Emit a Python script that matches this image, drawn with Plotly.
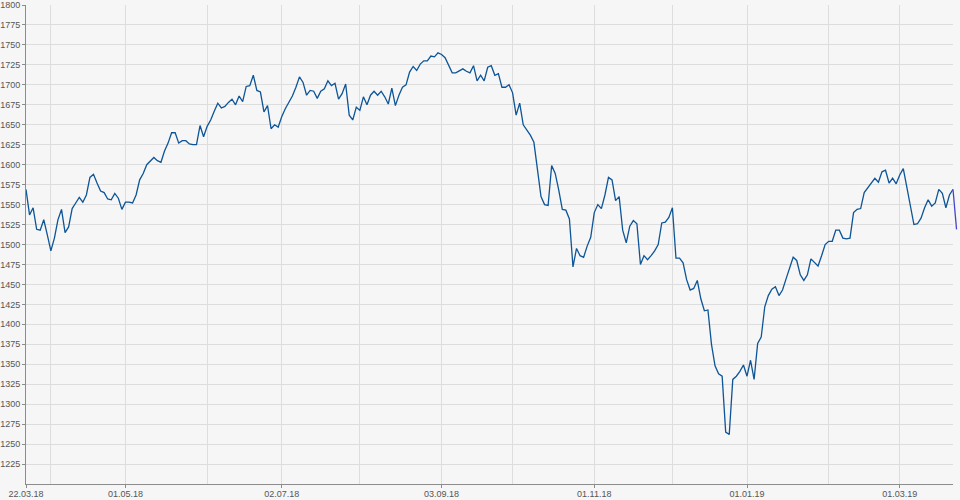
import pandas as pd
import plotly.graph_objects as go

# ---- data -------------------------------------------------------------
START_DATE = "2018-03-22"
END_DATE = "2019-03-22"          # right edge of the x axis

VALUES = [
    1569, 1537, 1546, 1519, 1518, 1531, 1512, 1492, 1508, 1531,
    1544, 1515, 1522, 1545, 1552, 1559, 1553, 1562, 1584, 1588,
    1577, 1567, 1565, 1557, 1556, 1564, 1558, 1544, 1553, 1553,
    1552, 1562, 1581, 1589, 1600, 1604, 1609, 1605, 1603, 1617,
    1627, 1640, 1640, 1627, 1630, 1630, 1626, 1625, 1625, 1649,
    1635, 1648, 1656, 1667, 1677, 1671, 1673, 1678, 1682, 1675,
    1686, 1679, 1698, 1699, 1712, 1693, 1691, 1666, 1674, 1645,
    1650, 1647, 1660, 1670, 1678, 1686, 1697, 1710, 1703, 1687,
    1693, 1692, 1683, 1692, 1695, 1705, 1699, 1702, 1682, 1689,
    1701, 1662, 1656, 1672, 1668, 1685, 1675, 1687, 1692, 1687,
    1692, 1685, 1676, 1696, 1674, 1687, 1697, 1700, 1716, 1723,
    1718, 1726, 1730, 1730, 1736, 1735, 1740, 1738, 1734, 1725,
    1715, 1715, 1717, 1720, 1717, 1715, 1724, 1705, 1712, 1705,
    1722, 1724, 1712, 1714, 1697, 1697, 1700, 1690, 1662, 1677,
    1650, 1643, 1637, 1628, 1590, 1560, 1550, 1549, 1599, 1589,
    1568, 1544, 1543, 1532, 1472, 1495, 1486, 1484, 1498, 1509,
    1540, 1550, 1545, 1562, 1584, 1581, 1555, 1560, 1518, 1502,
    1523, 1530, 1526, 1475, 1486, 1481, 1486, 1492, 1500, 1527,
    1528, 1534, 1546, 1483, 1483, 1477, 1456, 1443, 1445, 1455,
    1432, 1417, 1418, 1375, 1348, 1338, 1335, 1265, 1262, 1331,
    1335, 1341, 1349, 1335, 1355, 1331, 1376, 1384, 1422, 1436,
    1444, 1447, 1436, 1443, 1457, 1470, 1484, 1480, 1462, 1455,
    1462, 1482, 1478, 1473, 1486, 1500, 1504, 1504, 1518, 1518,
    1508, 1507, 1508, 1540, 1544, 1545, 1565, 1571, 1576, 1583,
    1578, 1591, 1593, 1577, 1583, 1576, 1587, 1595, 1572, 1548,
    1525, 1526, 1533, 1546, 1556, 1548, 1552, 1569, 1564, 1546,
    1562, 1569, 1519,
]

X_TICK_LABELS = ["22.03.18", "01.05.18", "02.07.18", "03.09.18",
                 "01.11.18", "01.01.19", "01.03.19"]
Y_TICKS = list(range(1225, 1801, 25))
Y_RANGE = [1200, 1800]

# ---- derived positions (trading-day axis, weekends removed) ------------
DATES = pd.bdate_range(START_DATE, periods=len(VALUES))
pos = {d: i for i, d in enumerate(DATES)}
X = list(range(len(VALUES)))
HOVER = [d.strftime("%d.%m.%y") for d in DATES]

major_idx = [pos[pd.to_datetime(t, format="%d.%m.%y")] for t in X_TICK_LABELS]
month_first = pd.Series(DATES).groupby([DATES.year, DATES.month]).min()
minor_idx = [pos[d] for d in month_first if pos[d] not in major_idx and pos[d] > 0]
end_idx = pos[pd.Timestamp(END_DATE)]

# ---- styling -----------------------------------------------------------
W, H = 960, 500
ML, MR, MT, MB = 26, 0, 5, 16
PLOT_RIGHT = 953                      # right edge of the grid area
BG = "#f6f6f6"
GRID = "#dddddd"
AXIS = "#8c8c8c"
TEXT = "#555555"
LINE = "#0d5597"
LAST = "#4646cc"
FONT = dict(family="Liberation Sans, Arial, sans-serif", size=9, color=TEXT)

inner_w = W - ML - MR
dom_main = (PLOT_RIGHT - ML) / inner_w
x2_end = end_idx / dom_main

fig = go.Figure()
fig.add_trace(go.Scatter(
    x=X[:-1], y=VALUES[:-1], mode="lines",
    line=dict(color=LINE, width=1.3),
    text=HOVER[:-1], hovertemplate="%{text}: %{y}<extra></extra>",
    xaxis="x", yaxis="y", showlegend=False,
))
fig.add_trace(go.Scatter(
    x=X[-2:], y=VALUES[-2:], mode="lines",
    line=dict(color=LAST, width=1.3),
    text=HOVER[-2:], hovertemplate="%{text}: %{y}<extra></extra>",
    xaxis="x2", yaxis="y2", showlegend=False,
))

fig.update_layout(
    width=W, height=H,
    margin=dict(l=ML, r=MR, t=MT, b=MB, pad=0),
    paper_bgcolor=BG, plot_bgcolor="rgba(0,0,0,0)",
    font=FONT,
    xaxis=dict(
        domain=[0, dom_main], range=[0, end_idx],
        tickmode="array", tickvals=major_idx, ticktext=X_TICK_LABELS,
        ticks="outside", ticklen=3, tickcolor=AXIS, tickwidth=1,
        ticklabelstandoff=-2,
        showgrid=True, gridcolor=GRID, gridwidth=1,
        minor=dict(tickmode="array", tickvals=minor_idx, showgrid=True,
                   gridcolor=GRID, gridwidth=1, ticks=""),
        showline=True, linecolor=AXIS, linewidth=1,
        zeroline=False, tickfont=FONT, fixedrange=True,
    ),
    yaxis=dict(
        domain=[0, 1], range=Y_RANGE,
        tickmode="array", tickvals=Y_TICKS,
        ticks="outside", ticklen=3, tickcolor=AXIS, tickwidth=1,
        showgrid=False,
        minor=dict(tickmode="array", tickvals=Y_TICKS[:-1], showgrid=True,
                   gridcolor=GRID, gridwidth=1, ticks=""),
        showline=True, linecolor=AXIS, linewidth=1,
        zeroline=False, tickfont=FONT, fixedrange=True,
    ),
    xaxis2=dict(domain=[0, 1], range=[0, x2_end], anchor="y2",
                visible=False, fixedrange=True),
    yaxis2=dict(domain=[0, 1], range=Y_RANGE, anchor="x2",
                visible=False, fixedrange=True),
    hovermode="closest",
)

fig.write_html(
    "out.html",
    config={"displayModeBar": False},
    post_script="document.body.style.margin='0';"
                "document.body.style.background='" + BG + "';",
)
